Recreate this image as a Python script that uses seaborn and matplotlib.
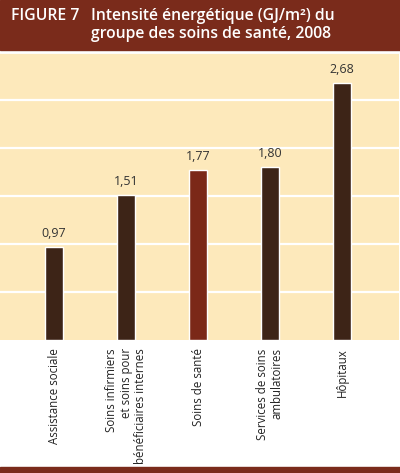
import matplotlib
matplotlib.use("Agg")
import matplotlib.pyplot as plt
import seaborn as sns
import pandas as pd
from matplotlib.patches import Rectangle

# data
categories = ["Assistance sociale",
              "Soins infirmiers\net soins pour\nbénéficiaires internes",
              "Soins de santé",
              "Services de soins\nambulatoires",
              "Hôpitaux"]
values = [0.97, 1.51, 1.77, 1.80, 2.68]
value_labels = ["0,97", "1,51", "1,77", "1,80", "2,68"]
highlight = ["autre", "autre", "total", "autre", "autre"]

cream = "#fde9bb"
dark = "#3d2417"
red = "#7b2818"
header = "#7a2b1b"

sns.set_style("white")
plt.rcParams["font.family"] = ["Open Sans", "DejaVu Sans"]

df = pd.DataFrame({"cat": categories, "val": values, "grp": highlight})

fig = plt.figure(figsize=(4.0, 4.73), dpi=100)
fig.patch.set_facecolor("white")
ax = fig.add_axes([0.0, 1 - 340 / 473, 0.9975, 288 / 473])
ax.set_facecolor(cream)

sns.barplot(data=df, x="cat", y="val", hue="grp", dodge=False,
            palette={"autre": dark, "total": red}, width=0.24,
            legend=False, ax=ax, zorder=3, saturation=1)

ax.set_ylim(0, 3)
ax.set_xlim(-0.75, 4.79)
for g in [0.5, 1.0, 1.5, 2.0, 2.5]:
    ax.axhline(g, color="white", lw=1.6, zorder=1)
ax.axhline(3.0, color="white", lw=2, zorder=1, clip_on=False)

for i, (v, lab) in enumerate(zip(values, value_labels)):
    ax.text(i, v + 0.07, lab, ha="center", va="bottom", fontsize=9,
            color="#333333")

ax.set_yticks([])
ax.set_xlabel("")
ax.set_ylabel("")
ax.tick_params(axis="x", length=0, pad=6)
ax.set_xticks(range(len(categories)))
ax.set_xticklabels(categories, rotation=90, ha="center", va="top",
                   multialignment="right", fontsize=8.3, color="#222222",
                   linespacing=1.15)
for s in ax.spines.values():
    s.set_visible(False)

# header band
fig.patches.append(Rectangle((0, 1 - 50.5 / 473), 1, 50.5 / 473,
                             transform=fig.transFigure, color=header, zorder=0))
fig.text(11 / 400, 1 - 20 / 473, "FIGURE 7", color="white", fontsize=11.3,
         fontweight="semibold", va="baseline", ha="left")
fig.text(91 / 400, 1 - 20 / 473, "Intensité énergétique (GJ/m²) du",
         color="white", fontsize=11.3, fontweight="semibold", va="baseline",
         ha="left")
fig.text(91 / 400, 1 - 38 / 473, "groupe des soins de santé, 2008",
         color="white", fontsize=11.3, fontweight="semibold", va="baseline",
         ha="left")

# bottom rule
fig.patches.append(Rectangle((0, 0), 1, 6 / 473, transform=fig.transFigure,
                             color=header, zorder=0))

fig.savefig("out.png", dpi=100)
